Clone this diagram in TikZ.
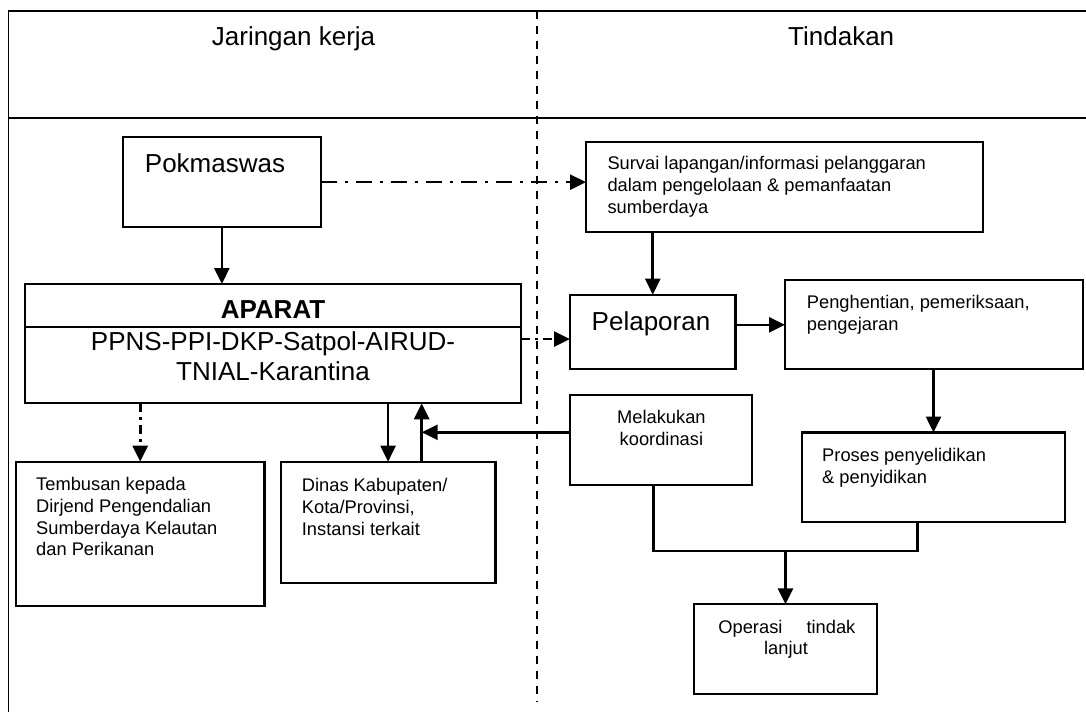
\documentclass[tikz,border=0pt]{standalone}
\usepackage{fontspec}
\setmainfont{Liberation Sans}
\usetikzlibrary{arrows.meta,calc}
\begin{document}
\begin{tikzpicture}[x=1pt,y=-1pt,
  box/.style={draw,line width=2.2pt,inner sep=0pt,outer sep=0pt,anchor=north west},
  big/.style={inner sep=0pt,anchor=base,font=\fontsize{26}{30}\selectfont},
  sm/.style={inner sep=0pt,anchor=base west,font=\fontsize{18.3}{21.7}\selectfont},
  arr/.style={line width=2.6pt,-{Triangle[length=16pt,width=15pt]}},
  ddlong/.style={arr,dash pattern=on 16pt off 8pt on 3pt off 8pt},
  ddshort/.style={arr,dash pattern=on 9pt off 5pt on 3pt off 5pt},
  conn/.style={line width=2.4pt},
  frameline/.style={line width=1.9pt},
  divider/.style={line width=1.6pt,dash pattern=on 8pt off 7pt}]
\useasboundingbox (0,0) rectangle (1086,712);
\fill[white] (0,0) rectangle (1086,712);
% frame
\draw[frameline] (1086,10.7) -- (8.5,10.7) -- (8.5,712);
\draw[frameline] (8.5,118.3) -- (1086,118.3);
\coordinate (dtop) at (537,10.7);
\coordinate (dbot) at (537,701.7);
\draw[divider] (dtop) -- (dbot);
\node[big,anchor=base west] (h1) at (211.7,45.7) {Jaringan kerja};
\node[big,anchor=base west] (h2) at (788,45.7) {Tindakan};
% boxes
\node[box,minimum width=198.3pt,minimum height=90.3pt] (pok) at (122.7,137) {};
\node[box,minimum width=397pt,minimum height=89.4pt] (survai) at (586,142.3) {};
\node[box,minimum width=495.8pt,minimum height=119.3pt] (aparat) at (24.9,284) {};
\node[box,minimum width=165.5pt,minimum height=74.6pt] (pel) at (570,294.7) {};
\node[box,minimum width=297.7pt,minimum height=89pt] (peng) at (785,280.3) {};
\node[box,minimum width=182pt,minimum height=89.8pt] (mel) at (570,395.2) {};
\node[box,minimum width=263.6pt,minimum height=89.5pt] (proses) at (801.7,432.5) {};
\node[box,minimum width=248.6pt,minimum height=144pt] (tem) at (15.9,461.7) {};
\node[box,minimum width=214.8pt,minimum height=121pt] (dinas) at (280.7,461.7) {};
\node[box,minimum width=182.4pt,minimum height=89.7pt] (oper) at (694.3,604.3) {};
\coordinate (divy) at (0,326.7);
\draw[line width=2.2pt] (aparat.west |- divy) -- (aparat.east |- divy);
% texts
\node[big] (tpok) at (215,172.7) {Pokmaswas};
\node[big,font=\fontsize{26}{30}\selectfont\bfseries] (tap) at (273,318.3) {APARAT};
\node[big] (tap1) at (273,350) {PPNS-PPI-DKP-Satpol-AIRUD-};
\node[big] (tap2) at (273,380) {TNIAL-Karantina};
\node[big] (tpel) at (651,330) {Pelaporan};
\node[sm] (ts1) at (607.3,169.5) {Survai lapangan/informasi pelanggaran};
\node[sm] (ts2) at (607.3,191.5) {dalam pengelolaan \& pemanfaatan};
\node[sm] (ts3) at (607.3,213.5) {sumberdaya};
\node[sm] (tp1) at (806.7,308.3) {Penghentian, pemeriksaan,};
\node[sm] (tp2) at (806.7,330) {pengejaran};
\node[sm,anchor=base] (tm1) at (661.4,423.7) {Melakukan};
\node[sm,anchor=base] (tm2) at (661.4,445.5) {koordinasi};
\node[sm] (tr1) at (822,461.5) {Proses penyelidikan};
\node[sm] (tr2) at (822,483) {\& penyidikan};
\node[sm] (tt1) at (36,490.7) {Tembusan kepada};
\node[sm] (tt2) at (36,512.4) {Dirjend Pengendalian};
\node[sm] (tt3) at (36,534) {Sumberdaya Kelautan};
\node[sm] (tt4) at (36,555.7) {dan Perikanan};
\node[sm] (td1) at (301.7,491.7) {Dinas Kabupaten/};
\node[sm] (td2) at (301.7,513.4) {Kota/Provinsi,};
\node[sm] (td3) at (301.7,535.1) {Instansi terkait};
\node[sm] (to1) at (718.2,633) {Operasi\hspace*{19pt} tindak};
\node[sm,anchor=base] (to2) at (786,654.7) {lanjut};
% connectors
\draw[arr] (pok.south) -- (pok.south |- aparat.north);
\draw[ddlong] (pok.east) -- (pok.east -| survai.west);
\draw[arr] (pel.north |- survai.south) -- (pel.north);
\coordinate (ae) at ($(aparat.east)+(0,-4.6)$);
\draw[ddshort] (ae) -- (ae -| pel.west);
\draw[arr] (peng.west -| pel.east) -- (peng.west);
\draw[arr] (proses.north |- peng.south) -- (proses.north);
\draw[ddshort] (tem.north |- aparat.south) -- (tem.north);
\draw[arr] (dinas.north |- aparat.south) -- (dinas.north);
\coordinate (upb) at ($(dinas.north)+(33.6,0)$);
\draw[arr] (upb) -- (upb |- aparat.south);
\coordinate (mw) at ($(mel.west)+(0,-7.8)$);
\draw[arr] (mw) -- (mw -| upb);
\coordinate (jy) at (0,550.7);
\coordinate (ms) at ($(mel.south)+(-7.7,0)$);
\coordinate (ps) at ($(proses.south)+(-16.2,0)$);
\draw[conn] (ms) -- (ms |- jy) -- (ps |- jy) -- (ps);
\draw[arr] (oper.north |- jy) -- (oper.north);
\end{tikzpicture}
\end{document}
